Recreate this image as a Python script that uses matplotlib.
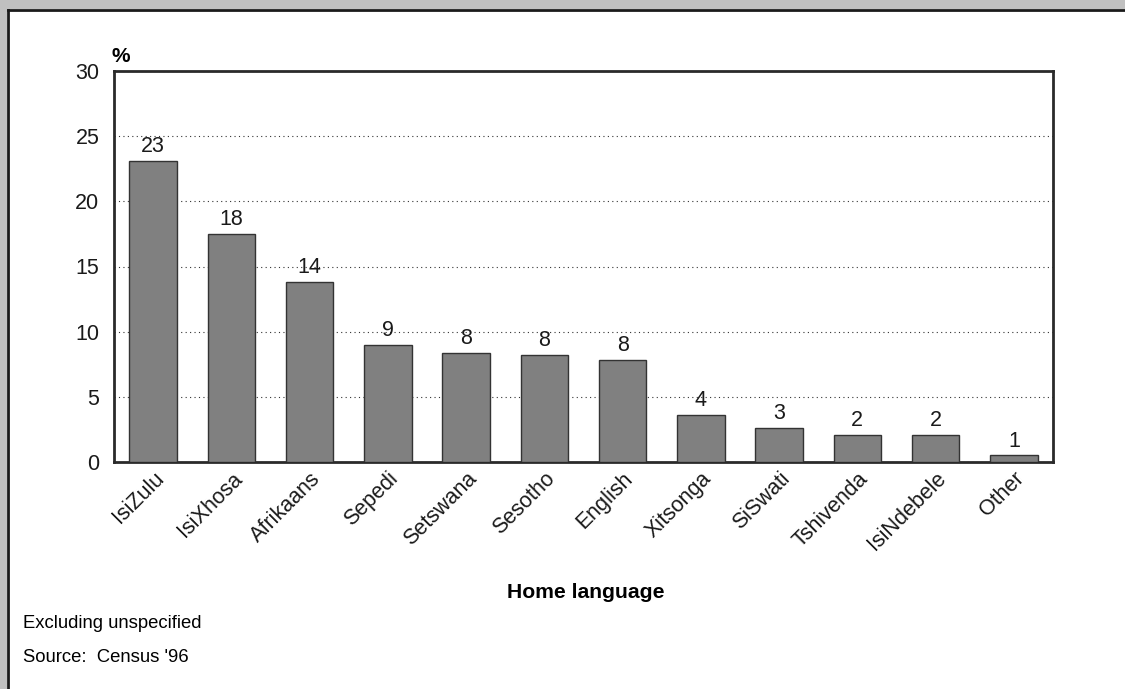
import matplotlib.pyplot as plt
from matplotlib.patches import Rectangle
from matplotlib.lines import Line2D

languages = ["IsiZulu", "IsiXhosa", "Afrikaans", "Sepedi", "Setswana", "Sesotho",
             "English", "Xitsonga", "SiSwati", "Tshivenda", "IsiNdebele", "Other"]
shares = [23.1, 17.5, 13.8, 9.0, 8.4, 8.2, 7.8, 3.6, 2.6, 2.1, 2.1, 0.5]
labels = ["23", "18", "14", "9", "8", "8", "8", "4", "3", "2", "2", "1"]
yticks = [0, 5, 10, 15, 20, 25, 30]

plt.rcParams["font.family"] = ["Liberation Sans", "DejaVu Sans"]

W, H = 1125, 689
fig = plt.figure(figsize=(W / 100, H / 100), dpi=100)
fig.patch.set_facecolor("white")

# grey frame top and left, with dark inner edge
fig.add_artist(Rectangle((0, 1 - 9 / H), 1, 9 / H, transform=fig.transFigure,
                         facecolor="#c0c0c0", edgecolor="none"))
fig.add_artist(Rectangle((0, 0), 7 / W, 1, transform=fig.transFigure,
                         facecolor="#c0c0c0", edgecolor="none"))
fig.add_artist(Line2D([7.5 / W, 1], [1 - 10 / H, 1 - 10 / H], transform=fig.transFigure,
                      color="#1a1a1a", lw=2))
fig.add_artist(Line2D([8 / W, 8 / W], [0, 1 - 10 / H], transform=fig.transFigure,
                      color="#1a1a1a", lw=2))

ax = fig.add_axes([114 / W, 1 - 462 / H, (1053 - 114) / W, (462 - 71) / H])
x = range(len(languages))
ax.bar(x, shares, width=0.61, color="#808080", edgecolor="#333333", linewidth=1, zorder=3)
for xi, v, lab in zip(x, shares, labels):
    ax.text(xi, v + 0.3, lab, ha="center", va="bottom", fontsize=15.5, color="#1a1a1a")

ax.set_xlim(-0.5, len(languages) - 0.5)
ax.set_ylim(0, 30)
ax.set_yticks(yticks)
ax.tick_params(axis="y", length=0, pad=10.5, labelsize=15.5, colors="#1a1a1a")
ax.tick_params(axis="x", length=0, pad=4.5, labelsize=15.5, colors="#1a1a1a")
ax.set_xticks(list(x))
ax.set_xticklabels(languages, rotation=45, ha="right", rotation_mode="anchor")
ax.yaxis.grid(True, linestyle=(0, (1, 3)), color="#333333", linewidth=0.8, zorder=0)
for s in ax.spines.values():
    s.set_linewidth(2)
    s.set_color("#2a2a2a")

fig.text(112 / W, 1 - 56 / H, "%", fontsize=15, fontweight="bold", va="center", ha="left")
fig.text(586 / W, 1 - 592 / H, "Home language", fontsize=15.2, fontweight="bold",
         ha="center", va="center")
fig.text(23 / W, 1 - 624 / H, "Excluding unspecified", fontsize=13.3, va="center")
fig.text(23 / W, 1 - 657 / H, "Source:  Census '96", fontsize=13.3, va="center")

fig.savefig("out.png", dpi=100)
